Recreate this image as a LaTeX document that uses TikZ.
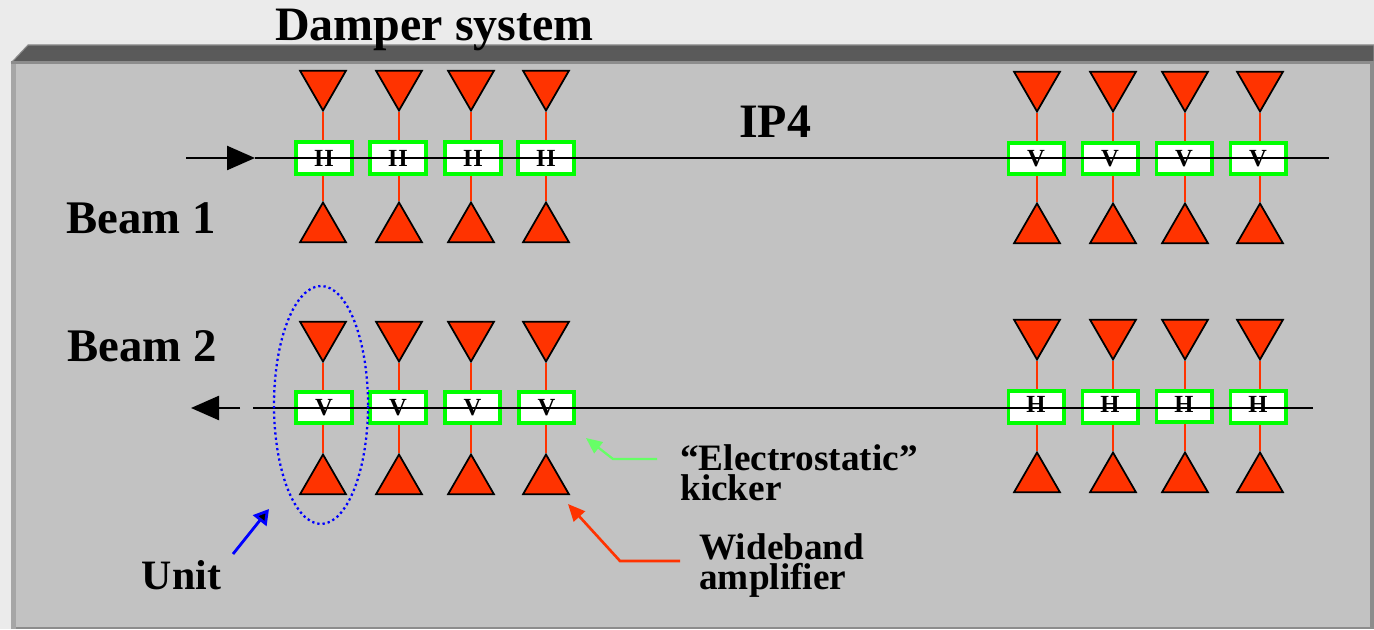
\documentclass[tikz,border=0pt]{standalone}
\usepackage{fontspec}
\setmainfont{Liberation Serif}
\usetikzlibrary{shapes.geometric, arrows.meta}
\definecolor{ampred}{HTML}{FF3300}
\definecolor{kickgreen}{HTML}{00FF00}
\definecolor{leadgreen}{HTML}{66FF66}
\definecolor{panelgray}{HTML}{C2C2C2}
\definecolor{edgegray}{HTML}{8C8C8C}
\definecolor{sidegray}{HTML}{A6A6A6}
\definecolor{topgray}{HTML}{5A5A5A}
\definecolor{pagegray}{HTML}{EBEBEB}
\tikzset{
  ampup/.style={draw=black, fill=ampred, line width=1pt, regular polygon, regular polygon sides=3, minimum size=1.06cm, inner sep=0pt},
  ampdown/.style={ampup, shape border rotate=180},
  kicker/.style={draw=kickgreen, fill=white, line width=2pt, minimum width=1.11cm, minimum height=0.63cm, inner sep=0pt, font=\fontsize{14}{14}\selectfont\bfseries},
  feed/.style={draw=ampred, line width=1.3pt},
  beamline/.style={draw=black, line width=1pt},
  beamarrow/.style={draw=black, line width=1.4pt, -{Triangle[length=0.56cm, width=0.48cm]}},
  bigtext/.style={font=\fontsize{27.3}{27.3}\selectfont\bfseries, anchor=base, inner sep=0pt},
  beamtext/.style={font=\fontsize{26.6}{26.6}\selectfont\bfseries, anchor=base, inner sep=0pt},
  smalltext/.style={font=\fontsize{21.2}{17.2}\selectfont\bfseries, anchor=north west, align=left, inner sep=0pt},
}
\begin{document}
\begin{tikzpicture}
  \useasboundingbox (0, 0) rectangle (27.48, 12.58);
  \fill[pagegray] (0, 0) rectangle (27.48, 12.58);

  % Panel
  \fill[topgray, draw=edgegray, line width=0.6pt] (0.24, 11.34) -- (0.56, 11.68) -- (27.48, 11.68) -- (27.48, 11.34) -- cycle;
  \fill[edgegray] (0.22, 0) rectangle (27.48, 11.36);
  \fill[sidegray] (0.22, 0) rectangle (0.32, 11.30);
  \fill[panelgray] (0.32, 0.05) rectangle (27.4, 11.3);

  % Beam 1, left
  \node[ampdown] (amp1t) at (6.46, 10.90) {};
  \node[kicker] (kick1) at (6.48, 9.42) {H};
  \node[ampup] (amp1b) at (6.46, 8.00) {};
  \draw[feed] (amp1t.south) -- (amp1t.south |- kick1.north) (amp1b.north) -- (amp1b.north |- kick1.south);
  \node[ampdown] (amp2t) at (7.98, 10.90) {};
  \node[kicker] (kick2) at (7.96, 9.42) {H};
  \node[ampup] (amp2b) at (7.98, 8.00) {};
  \draw[feed] (amp2t.south) -- (amp2t.south |- kick2.north) (amp2b.north) -- (amp2b.north |- kick2.south);
  \node[ampdown] (amp3t) at (9.42, 10.90) {};
  \node[kicker] (kick3) at (9.46, 9.42) {H};
  \node[ampup] (amp3b) at (9.42, 8.00) {};
  \draw[feed] (amp3t.south) -- (amp3t.south |- kick3.north) (amp3b.north) -- (amp3b.north |- kick3.south);
  \node[ampdown] (amp4t) at (10.92, 10.90) {};
  \node[kicker] (kick4) at (10.92, 9.42) {H};
  \node[ampup] (amp4b) at (10.92, 8.00) {};
  \draw[feed] (amp4t.south) -- (amp4t.south |- kick4.north) (amp4b.north) -- (amp4b.north |- kick4.south);

  % Beam 1, right
  \node[ampdown] (amp5t) at (20.74, 10.88) {};
  \node[kicker] (kick5) at (20.72, 9.41) {\raisebox{-2pt}{V}};
  \node[ampup] (amp5b) at (20.74, 7.98) {};
  \draw[feed] (amp5t.south) -- (amp5t.south |- kick5.north) (amp5b.north) -- (amp5b.north |- kick5.south);
  \node[ampdown] (amp6t) at (22.26, 10.88) {};
  \node[kicker] (kick6) at (22.20, 9.41) {\raisebox{-2pt}{V}};
  \node[ampup] (amp6b) at (22.26, 7.98) {};
  \draw[feed] (amp6t.south) -- (amp6t.south |- kick6.north) (amp6b.north) -- (amp6b.north |- kick6.south);
  \node[ampdown] (amp7t) at (23.70, 10.88) {};
  \node[kicker] (kick7) at (23.68, 9.41) {\raisebox{-2pt}{V}};
  \node[ampup] (amp7b) at (23.70, 7.98) {};
  \draw[feed] (amp7t.south) -- (amp7t.south |- kick7.north) (amp7b.north) -- (amp7b.north |- kick7.south);
  \node[ampdown] (amp8t) at (25.20, 10.88) {};
  \node[kicker] (kick8) at (25.16, 9.41) {\raisebox{-2pt}{V}};
  \node[ampup] (amp8b) at (25.20, 7.98) {};
  \draw[feed] (amp8t.south) -- (amp8t.south |- kick8.north) (amp8b.north) -- (amp8b.north |- kick8.south);

  % Beam 2, left
  \node[ampdown] (amp9t) at (6.46, 5.88) {};
  \node[kicker] (kick9) at (6.48, 4.43) {V};
  \node[ampup] (amp9b) at (6.46, 2.96) {};
  \draw[feed] (amp9t.south) -- (amp9t.south |- kick9.north) (amp9b.north) -- (amp9b.north |- kick9.south);
  \node[ampdown] (amp10t) at (7.98, 5.88) {};
  \node[kicker] (kick10) at (7.96, 4.43) {V};
  \node[ampup] (amp10b) at (7.98, 2.96) {};
  \draw[feed] (amp10t.south) -- (amp10t.south |- kick10.north) (amp10b.north) -- (amp10b.north |- kick10.south);
  \node[ampdown] (amp11t) at (9.42, 5.88) {};
  \node[kicker] (kick11) at (9.45, 4.43) {V};
  \node[ampup] (amp11b) at (9.42, 2.96) {};
  \draw[feed] (amp11t.south) -- (amp11t.south |- kick11.north) (amp11b.north) -- (amp11b.north |- kick11.south);
  \node[ampdown] (amp12t) at (10.92, 5.88) {};
  \node[kicker] (kick12) at (10.93, 4.43) {V};
  \node[ampup] (amp12b) at (10.92, 2.96) {};
  \draw[feed] (amp12t.south) -- (amp12t.south |- kick12.north) (amp12b.north) -- (amp12b.north |- kick12.south);

  % Beam 2, right
  \node[ampdown] (amp13t) at (20.74, 5.92) {};
  \node[kicker] (kick13) at (20.72, 4.44) {\raisebox{2.8pt}{H}};
  \node[ampup] (amp13b) at (20.74, 3.00) {};
  \draw[feed] (amp13t.south) -- (amp13t.south |- kick13.north) (amp13b.north) -- (amp13b.north |- kick13.south);
  \node[ampdown] (amp14t) at (22.26, 5.92) {};
  \node[kicker] (kick14) at (22.20, 4.44) {\raisebox{2.8pt}{H}};
  \node[ampup] (amp14b) at (22.26, 3.00) {};
  \draw[feed] (amp14t.south) -- (amp14t.south |- kick14.north) (amp14b.north) -- (amp14b.north |- kick14.south);
  \node[ampdown] (amp15t) at (23.70, 5.92) {};
  \node[kicker] (kick15) at (23.68, 4.45) {\raisebox{2.8pt}{H}};
  \node[ampup] (amp15b) at (23.70, 3.00) {};
  \draw[feed] (amp15t.south) -- (amp15t.south |- kick15.north) (amp15b.north) -- (amp15b.north |- kick15.south);
  \node[ampdown] (amp16t) at (25.20, 5.92) {};
  \node[kicker] (kick16) at (25.16, 4.44) {\raisebox{2.8pt}{H}};
  \node[ampup] (amp16b) at (25.20, 3.00) {};
  \draw[feed] (amp16t.south) -- (amp16t.south |- kick16.north) (amp16b.north) -- (amp16b.north |- kick16.south);

  % Beam lines
  \coordinate (beam1from) at (3.72, 9.42);
  \coordinate (beam1tip) at (5.10, 9.42);
  \coordinate (beam1end) at (26.58, 9.42);
  \draw[beamarrow] (beam1from) -- (beam1tip);
  \draw[beamline] (beam1tip) -- (beam1end);
  \coordinate (beam2from) at (4.80, 4.42);
  \coordinate (beam2tip) at (3.82, 4.42);
  \coordinate (beam2start) at (5.06, 4.42);
  \coordinate (beam2end) at (26.26, 4.42);
  \draw[beamarrow] (beam2from) -- (beam2tip);
  \draw[beamline] (beam2start) -- (beam2end);

  % Unit ring
  \node[draw=blue, ellipse, line width=1.3pt, dash pattern=on 1.3pt off 1.7pt, minimum width=1.88cm, minimum height=4.76cm, inner sep=0pt] (unitring) at (6.42, 4.48) {};

  % Labels
  \node[bigtext] (title) at (8.69, 11.76) {Damper system};
  \node[bigtext] (ipfour) at (15.5, 9.82) {IP4};
  \node[beamtext] (beamone) at (2.82, 7.90) {Beam 1};
  \node[beamtext] (beamtwo) at (2.84, 5.34) {Beam 2};
  \node[bigtext, font=\fontsize{23.8}{23.8}\selectfont\bfseries] (unitlabel) at (3.63, 0.80) {Unit};
  \node[smalltext] (kicklabel) at (13.6, 3.69) {“Electrostatic”\\kicker};
  \node[smalltext] (amplabel) at (13.98, 1.92) {Wideband\\amplifier};

  % Leaders
  \coordinate (unitfrom) at (4.66, 1.50);
  \coordinate (unittip) at (5.38, 2.40);
  \draw[draw=blue, line width=1.6pt, -{Triangle[length=0.3cm, width=0.34cm, fill=black]}] (unitfrom) -- (unittip);
  \coordinate (ampfrom) at (13.6, 1.36);
  \coordinate (ampbend) at (12.4, 1.36);
  \coordinate (amptip) at (11.36, 2.50);
  \draw[draw=ampred, line width=1.5pt, -{Triangle[length=0.34cm, width=0.3cm]}] (ampfrom) -- (ampbend) -- (amptip);
  \coordinate (kickfrom) at (13.14, 3.40);
  \coordinate (kickbend) at (12.26, 3.40);
  \coordinate (kicktip) at (11.72, 3.82);
  \draw[draw=leadgreen, line width=1.3pt, -{Triangle[length=0.32cm, width=0.28cm]}] (kickfrom) -- (kickbend) -- (kicktip);
\end{tikzpicture}
\end{document}
